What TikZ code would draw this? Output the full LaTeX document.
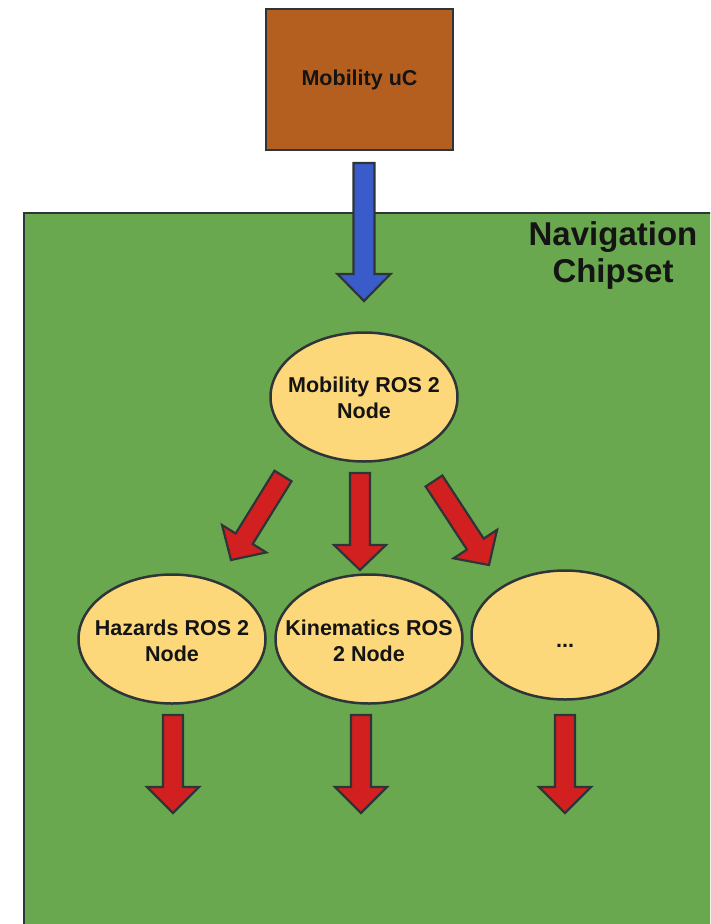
\documentclass[tikz,border=0pt]{standalone}
\usepackage{fontspec}
\setmainfont{Liberation Sans}
\usetikzlibrary{shapes.geometric,calc}
\definecolor{brownbox}{HTML}{B45F1F}
\definecolor{greenbg}{HTML}{6AA84F}
\definecolor{ellfill}{HTML}{FDD87A}
\definecolor{redfill}{HTML}{D21F1F}
\definecolor{bluefill}{HTML}{3A5CCB}
\definecolor{edge}{HTML}{2E3538}
\definecolor{txt}{HTML}{141414}
\tikzset{
  lbl/.style={font=\bfseries\fontsize{21.5}{26}\selectfont, text=txt, align=center},
  ros/.style={ellipse, draw=edge, line width=2.5pt, fill=ellfill, minimum width=187pt, minimum height=129pt, inner sep=0pt},
  ucbox/.style={rectangle, draw=edge, line width=2.5pt, fill=brownbox, minimum width=187pt, minimum height=141pt, inner sep=0pt, lbl},
  redarr/.style={draw=edge, line width=2.2pt, fill=redfill, line join=miter},
  bluearr/.style={draw=edge, line width=2.2pt, fill=bluefill, line join=miter},
  chip/.style={draw=edge, line width=2.5pt, fill=greenbg},
  title/.style={font=\bfseries\fontsize{33}{37}\selectfont, text=txt, align=center}
}
% #1 style, #2 start, #3 tip, #4 half shaft, #5 half head, #6 head length
\newcommand\blockarrow[6]{%
  \coordinate (#2-h) at ($(#3)!#6!(#2)$);
  \draw[#1] ($(#2)!#4!90:(#3)$) -- ($(#2-h)!#4!90:(#3)$) -- ($(#2-h)!#5!90:(#3)$)
    -- (#3) -- ($(#2-h)!#5!-90:(#3)$) -- ($(#2-h)!#4!-90:(#3)$) -- ($(#2)!#4!-90:(#3)$) -- cycle;
}
\begin{document}
\begin{tikzpicture}[x=1pt,y=-1pt]
  \useasboundingbox (0,0) rectangle (710,924);
  \clip (0,0) rectangle (710,924);
  \fill[white] (0,0) rectangle (710,924);
  % chipset
  \draw[chip] (24,213) rectangle (730,950);
  \node[title] (chiptitle) at (613,255) {Navigation\\Chipset};
  % top box
  \node[ucbox] (uc) at (359.5,79.5) {Mobility uC};
  % nodes
  \node[ros, label={[lbl, yshift=-1pt]center:{Mobility ROS 2\\Node}}] (mob) at (364,397) {};
  \node[ros, label={[lbl, yshift=-2pt]center:{Hazards ROS 2\\Node}}] (haz) at (172,639) {};
  \node[ros, label={[lbl, yshift=-2pt]center:{Kinematics ROS\\2 Node}}] (kin) at (369,639) {};
  \node[ros, label={[lbl, yshift=-11pt]center:{...}}] (etc) at (565,635) {};
  % arrow end points
  \coordinate (b1s) at (364,163);
  \coordinate (b1t) at (364,301);
  \coordinate (r1s) at (283,476);
  \coordinate (r1t) at (231,560);
  \coordinate (r2s) at (360,473);
  \coordinate (r2t) at (360,570);
  \coordinate (r3s) at (434,481);
  \coordinate (r3t) at (489,565);
  \coordinate (d1s) at (173,715);
  \coordinate (d1t) at (173,813);
  \coordinate (d2s) at (361,715);
  \coordinate (d2t) at (361,813);
  \coordinate (d3s) at (565,715);
  \coordinate (d3t) at (565,813);
  \blockarrow{bluearr}{b1s}{b1t}{10.5pt}{26.5pt}{27pt}
  \blockarrow{redarr}{r1s}{r1t}{10pt}{26pt}{25pt}
  \blockarrow{redarr}{r2s}{r2t}{10pt}{26pt}{25pt}
  \blockarrow{redarr}{r3s}{r3t}{10pt}{26pt}{25pt}
  \blockarrow{redarr}{d1s}{d1t}{10pt}{26pt}{26pt}
  \blockarrow{redarr}{d2s}{d2t}{10pt}{26pt}{26pt}
  \blockarrow{redarr}{d3s}{d3t}{10pt}{26pt}{26pt}
\end{tikzpicture}
\end{document}
